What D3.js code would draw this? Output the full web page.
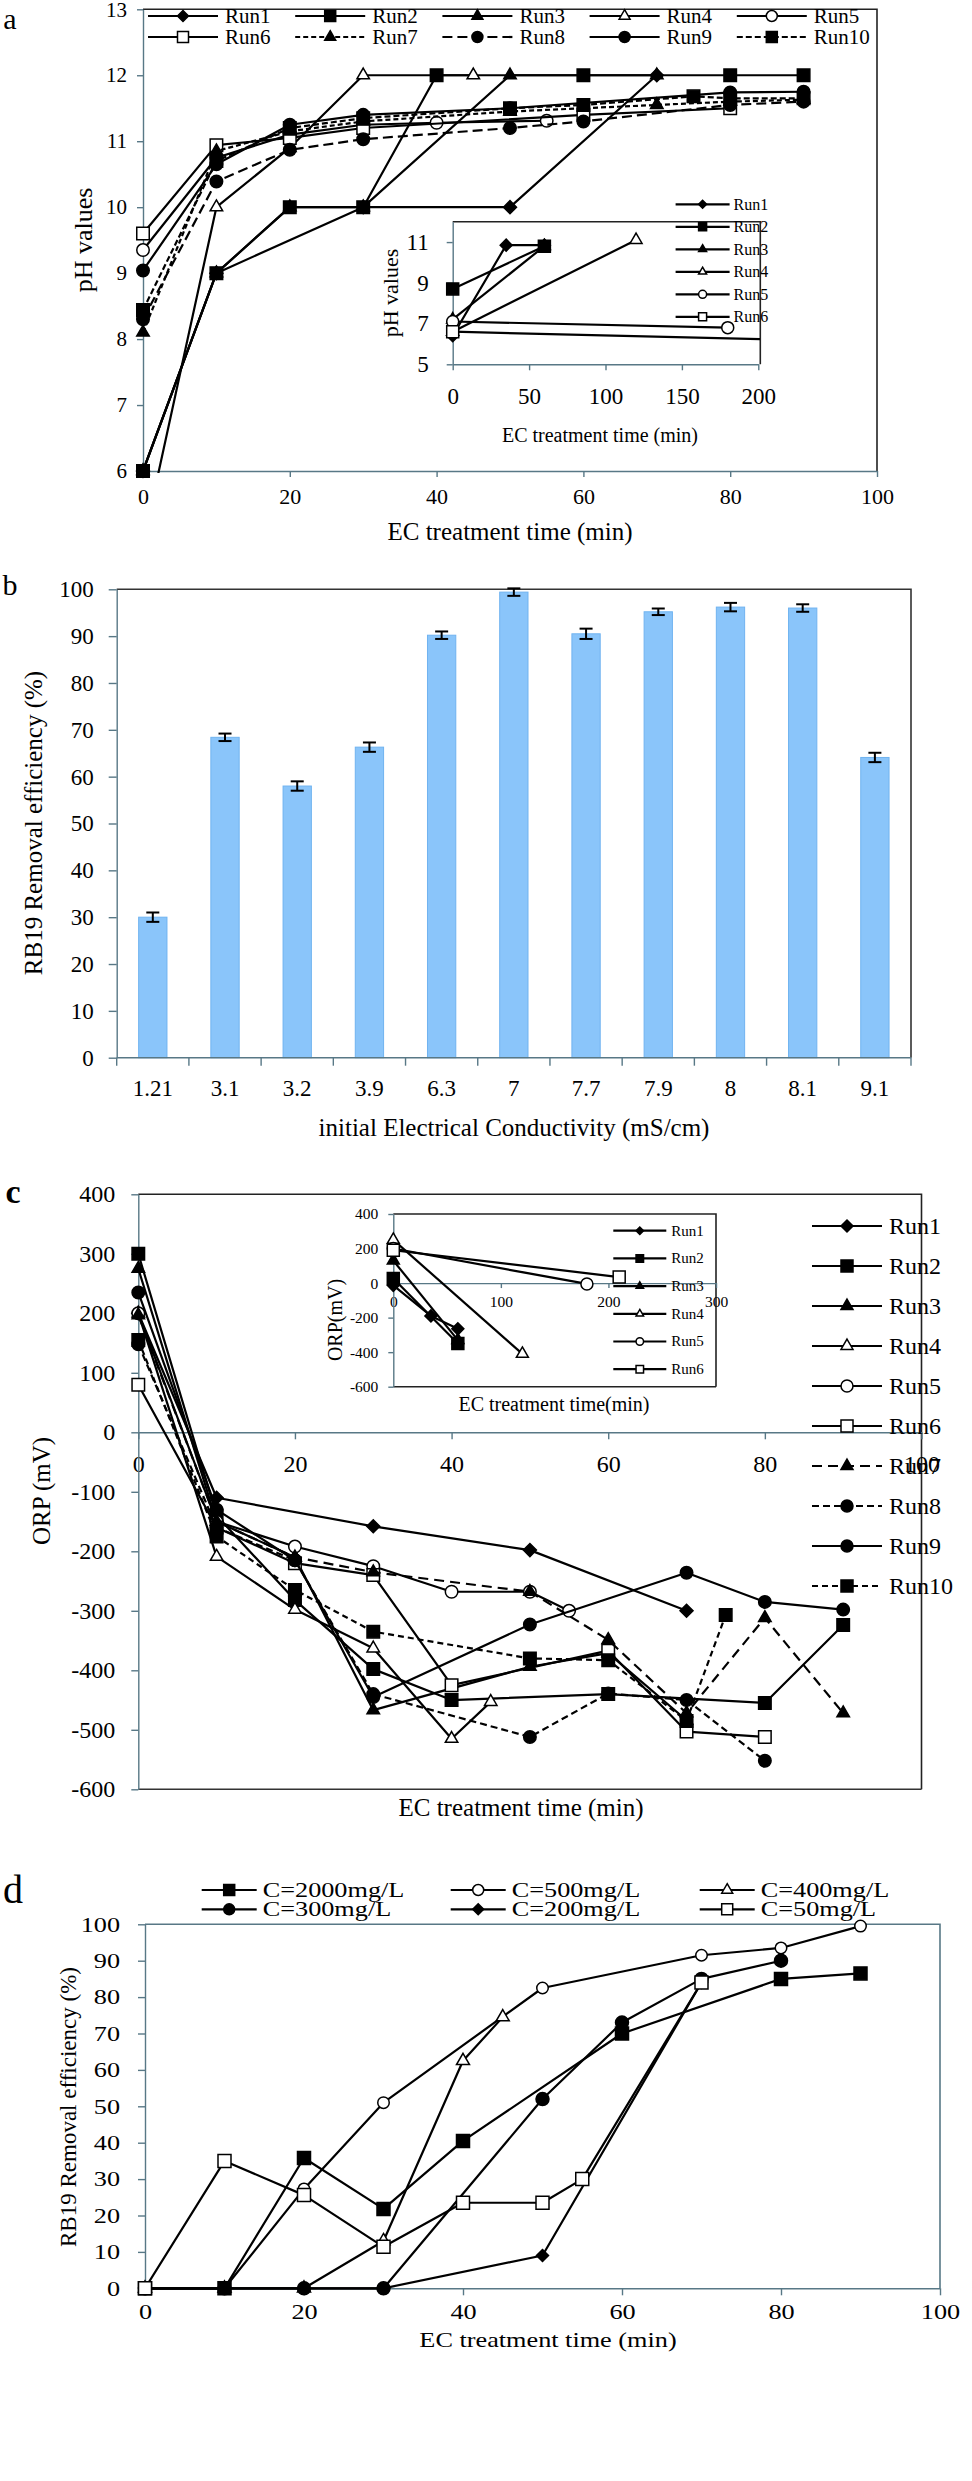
<!DOCTYPE html>
<html>
<head>
<meta charset="utf-8">
<script src="https://cdn.jsdelivr.net/npm/d3@7"></script>
<style>
html,body{margin:0;padding:0;background:#fff;}
svg{display:block;}
</style>
</head>
<body>
<svg id="fig" width="972" height="2481"></svg>
<script>
// ===== Data =====
const runNames = ['Run1','Run2','Run3','Run4','Run5','Run6','Run7','Run8','Run9','Run10'];

// (a) pH vs EC time, [min, pH]
const phRun1  = [[0,6],[10,9],[30,10],[50,10],[70,12]];
const phRun2  = [[0,6],[10,9],[20,10],[30,10],[40,12],[60,12],[80,12],[90,12]];
const phRun3  = [[0,6],[10,9],[20,10],[30,10],[50,12],[70,12]];
const phRun4  = [[0,4.9],[10,10],[20,10.9],[30,12],[45,12]];
const phRun5  = [[0,9.35],[10,10.75],[20,11.1],[30,11.25],[40,11.28],[55,11.31]];
const phRun6  = [[0,9.6],[10,10.94],[20,11.05],[30,11.2],[60,11.4],[80,11.5]];
const phRun7  = [[0,8.1],[10,10.85],[20,11.15],[30,11.3],[50,11.45],[70,11.55],[80,11.6],[90,11.63]];
const phRun8  = [[0,8.3],[10,10.39],[20,10.87],[30,11.03],[50,11.2],[60,11.3],[80,11.55],[90,11.6]];
const phRun9  = [[0,9.04],[10,10.65],[20,11.25],[30,11.4],[50,11.5],[80,11.74],[90,11.75]];
const phRun10 = [[0,8.44],[10,10.7],[20,11.2],[30,11.35],[50,11.5],[60,11.55],[75,11.68],[80,11.65],[90,11.65]];
// (a) inset, long runs
const phLong1 = [[0,6.4],[35,10.85],[60,10.85]];
const phLong2 = [[0,8.7],[60,10.8]];
const phLong3 = [[0,7.2],[60,10.8]];
const phLong4 = [[0,6.6],[120,11.1]];
const phLong5 = [[0,7.1],[180,6.8]];
const phLong6 = [[0,6.6],[220,6.2]];

// (b) removal vs initial EC
const ecCats    = ['1.21','3.1','3.2','3.9','6.3','7','7.7','7.9','8','8.1','9.1'];
const ecRemoval = [30.0, 68.4, 58.0, 66.3, 90.2, 99.4, 90.5, 95.2, 96.2, 96.0, 64.1];
const ecErr     = [1.0, 0.8, 1.0, 1.0, 0.8, 0.8, 1.1, 0.7, 0.9, 0.8, 1.0];

// (c) ORP vs EC time, [min, mV]
const orpRun1  = [[0,200],[10,-110],[30,-158],[50,-198],[70,-300]];
const orpRun2  = [[0,300],[10,-140],[20,-282],[30,-398],[40,-450],[60,-440],[80,-455],[90,-324]];
const orpRun3  = [[0,275],[10,-150],[20,-210],[30,-467],[50,-394],[60,-371],[70,-484]];
const orpRun4  = [[0,200],[10,-209],[20,-298],[30,-363],[40,-515],[45,-453]];
const orpRun5  = [[0,200],[10,-150],[20,-192],[30,-225],[40,-268],[50,-268],[55,-300]];
const orpRun6  = [[0,80],[10,-160],[20,-220],[30,-240],[40,-425],[60,-367],[70,-503],[80,-512]];
const orpRun7  = [[0,197],[10,-150],[20,-210],[30,-235],[50,-268],[60,-349],[70,-472],[80,-312],[90,-472]];
const orpRun8  = [[0,148],[10,-160],[20,-215],[30,-440],[50,-512],[60,-439],[70,-450],[80,-552]];
const orpRun9  = [[0,235],[10,-130],[20,-215],[30,-445],[50,-323],[70,-236],[80,-285],[90,-298]];
const orpRun10 = [[0,155],[10,-175],[20,-265],[30,-335],[50,-380],[60,-383],[70,-485],[75,-307]];
// (c) inset
const orpLong1 = [[0,-13],[35,-190],[60,-265]];
const orpLong2 = [[0,27],[60,-350]];
const orpLong3 = [[0,130],[60,-330]];
const orpLong4 = [[0,250],[120,-410]];
const orpLong5 = [[0,200],[180,-5]];
const orpLong6 = [[0,190],[210,35]];

// (d) removal vs time for dye concentrations, [min, %]
const concNames = ['C=2000mg/L','C=500mg/L','C=400mg/L','C=300mg/L','C=200mg/L','C=50mg/L'];
const remC2000 = [[0,0],[10,0],[20,35.8],[30,21.8],[40,40.5],[60,70],[80,85],[90,86.5]];
const remC500  = [[0,0],[10,0],[20,27.3],[30,51],[50,82.5],[70,91.5],[80,93.5],[90,99.5]];
const remC400  = [[0,0],[10,0],[20,0],[30,13],[40,62.5],[45,74.5]];
const remC300  = [[0,0],[10,0],[20,0],[30,0],[50,52],[60,73],[70,85],[80,90]];
const remC200  = [[0,0],[10,0],[20,0],[30,0],[50,9],[70,84]];
const remC50   = [[0,0],[10,35],[20,25.6],[30,11.4],[40,23.5],[50,23.5],[55,30],[70,84]];

// axis ticks
const phTicks = [6,7,8,9,10,11,12,13];
const phInsetTicks = [5,7,9,11];
const timeTicks = [0,20,40,60,80,100];
const timeInsetTicks = [0,50,100,150,200];
const pctTicks = [0,10,20,30,40,50,60,70,80,90,100];
const orpTicks = [-600,-500,-400,-300,-200,-100,0,100,200,300,400];
const orpInsetTicks = [-600,-400,-200,0,200,400];
const orpInsetTimeTicks = [0,100,200,300];

// ===== Styles =====
const FONT = '"Liberation Serif","Times New Roman",Times,serif';
const AXC = '#587886';
const runShapes = ['diamond','square','triangle','triangleOpen','circleOpen','squareOpen','triangle','circle','circle','square'];
const dashA = [null,null,null,null,null,null,'5,3','10,5',null,'6,3'];
const dashC = [null,null,null,null,null,null,'10,6','7,4',null,'6,4'];
const concShapes = ['square','circleOpen','triangleOpen','circle','diamond','squareOpen'];
const fmt = d => String(d);

const svg = d3.select('#fig').attr('font-family', FONT);
svg.append('rect').attr('width',972).attr('height',2481).attr('fill','#fff');
const defs = svg.append('defs');

function clipRect(id, x0, y0, x1, y1){
  defs.append('clipPath').attr('id', id).append('rect')
    .attr('x', x0).attr('y', y0).attr('width', x1 - x0).attr('height', y1 - y0);
}

function symPath(shape, s){
  const base = shape.replace('Open','');
  if(base === 'square') return d3.symbol(d3.symbolSquare, s*s)();
  if(base === 'diamond') return d3.symbol(d3.symbolSquare, s*s/2)();
  if(base === 'circle') return d3.symbol(d3.symbolCircle, Math.PI*s*s/4)();
  return d3.symbol(d3.symbolTriangle, Math.sqrt(3)/4*s*s)();
}

function marker(g, shape, x, y, s){
  g.append('path')
    .attr('d', symPath(shape, s))
    .attr('transform', `translate(${x},${y})` + (shape === 'diamond' ? ' rotate(45)' : ''))
    .attr('fill', shape.endsWith('Open') ? '#fff' : '#000')
    .attr('stroke', '#000').attr('stroke-width', 1.5);
}

function series(g, pts, shape, dash, xs, ys, clipId, ms, lw){
  const line = d3.line().x(d => xs(d[0])).y(d => ys(d[1]));
  g.append('path').attr('d', line(pts))
    .attr('fill','none').attr('stroke','#000').attr('stroke-width', lw || 2.2)
    .attr('stroke-dasharray', dash).attr('stroke-linejoin','round')
    .attr('clip-path', `url(#${clipId})`);
  const [x0, x1] = xs.domain();
  const [y0, y1] = d3.extent(ys.domain());
  pts.filter(d => d[0] >= x0 && d[0] <= x1 && d[1] >= y0 && d[1] <= y1)
    .forEach(d => marker(g, shape, xs(d[0]), ys(d[1]), ms));
}

function text(g, txt, x, y, size, o = {}){
  let tr = `translate(${x},${y})`;
  if(o.rotate) tr += ` rotate(${o.rotate})`;
  if(o.sx) tr += ` scale(${o.sx},1)`;
  return g.append('text').text(txt)
    .attr('transform', tr)
    .attr('font-family', FONT)
    .attr('font-size', size)
    .attr('font-weight', o.weight || 'normal')
    .attr('text-anchor', o.anchor || 'middle')
    .attr('fill', '#000');
}

function legendItem(g, name, shape, dash, x, y, len, ms, fs, gap, sx){
  g.append('line').attr('x1', x).attr('x2', x + len).attr('y1', y).attr('y2', y)
    .attr('stroke','#000').attr('stroke-width', 2.2).attr('stroke-dasharray', dash);
  marker(g, shape, x + len/2, y, ms);
  text(g, name, x + len + gap, y + fs*0.33, fs, {anchor:'start', sx});
}

function styleAxis(ax, fs, sx){
  ax.attr('font-family', FONT).attr('font-size', null);
  ax.select('.domain').attr('stroke', AXC).attr('stroke-width', 1.4);
  ax.selectAll('.tick line').attr('stroke', AXC).attr('stroke-width', 1.4);
  ax.selectAll('.tick text').attr('fill','#000').attr('font-size', fs)
    .attr('font-family', FONT)
    .attr('transform', sx ? `scale(${sx},1)` : null);
}

function frame(g, x0, y0, x1, y1, color){
  g.append('path').attr('d', `M${x0},${y0}H${x1}V${y1}`)
    .attr('fill','none').attr('stroke', color).attr('stroke-width', 1.6);
}

// ===== (a) pH =====
const gA = svg.append('g');
const aX = d3.scaleLinear().domain([0,100]).range([143,877]);
const aY = d3.scaleLinear().domain([6,13]).range([471,9.3]);
clipRect('clipA', 141, 8, 879, 473);

frame(gA, aX(0), aY(13), aX(100), aY(6), '#222');
styleAxis(gA.append('g').attr('transform', `translate(0,${aY(6)})`)
  .call(d3.axisBottom(aX).tickValues(timeTicks).tickFormat(fmt).tickSize(6).tickPadding(11).tickSizeOuter(0)), 22);
styleAxis(gA.append('g').attr('transform', `translate(${aX(0)},0)`)
  .call(d3.axisLeft(aY).tickValues(phTicks).tickFormat(fmt).tickSize(6).tickPadding(10).tickSizeOuter(0)), 21);

const phRuns = [phRun1,phRun2,phRun3,phRun4,phRun5,phRun6,phRun7,phRun8,phRun9,phRun10];
phRuns.forEach((pts, i) => series(gA, pts, runShapes[i], dashA[i], aX, aY, 'clipA', runShapes[i] === 'diamond' ? 13 : 12.5));

runNames.forEach((n, i) => {
  legendItem(gA, n, runShapes[i], dashA[i], 148 + (i % 5)*147.2, i < 5 ? 16 : 37, 70, 11, 21, 7);
});

text(gA, 'a', 10, 29, 30);
text(gA, 'pH values', 92, 240, 26, {rotate:-90});
text(gA, 'EC treatment time (min)', 510, 540, 25);

// inset of (a)
const aiX = d3.scaleLinear().domain([0,200]).range([452.7,758.3]);
const aiY = d3.scaleLinear().domain([5,12]).range([364.3,221.7]);
clipRect('clipAi', 451, 220, 760, 366);
gA.append('rect').attr('x', aiX(0)).attr('y', aiY(12)).attr('width', aiX(200) - aiX(0)).attr('height', aiY(5) - aiY(12)).attr('fill','#fff');
frame(gA, aiX(0), aiY(12), aiX(200) + 2, aiY(5), '#222');
styleAxis(gA.append('g').attr('transform', `translate(0,${aiY(5)})`)
  .call(d3.axisBottom(aiX).tickValues(timeInsetTicks).tickFormat(fmt).tickSize(6).tickPadding(17).tickSizeOuter(0)), 23);
styleAxis(gA.append('g').attr('transform', `translate(${aiX(0)},0)`)
  .call(d3.axisLeft(aiY).tickValues(phInsetTicks).tickFormat(fmt).tickSize(6).tickPadding(18).tickSizeOuter(0)), 23);
const phLongs = [phLong1,phLong2,phLong3,phLong4,phLong5,phLong6];
phLongs.forEach((pts, i) => series(gA, pts, runShapes[i], null, aiX, aiY, 'clipAi', 12));
runNames.slice(0,6).forEach((n, i) => {
  legendItem(gA, n, runShapes[i], null, 675.6, 204.3 + 22.5*i, 54, 8, 16, 4);
});
text(gA, 'pH values', 398, 293, 22, {rotate:-90});
text(gA, 'EC treatment time (min)', 600, 442, 20);

// ===== (b) removal vs EC =====
const gB = svg.append('g');
const bX = d3.scaleBand().domain(ecCats).range([116.7,911]).paddingInner(0.608).paddingOuter(0.304);
const bY = d3.scaleLinear().domain([0,100]).range([1057.7,589.3]);

frame(gB, 116.7, bY(100), 911, bY(0), '#333');
styleAxis(gB.append('g').attr('transform', 'translate(116.7,0)')
  .call(d3.axisLeft(bY).tickValues(pctTicks).tickFormat(fmt).tickSize(8).tickPadding(15).tickSizeOuter(0)), 23);

gB.selectAll('rect.bar').data(ecCats).join('rect').attr('class','bar')
  .attr('x', d => bX(d)).attr('width', bX.bandwidth())
  .attr('y', (d, i) => bY(ecRemoval[i])).attr('height', (d, i) => bY(0) - bY(ecRemoval[i]))
  .attr('fill', '#8ac5fa').attr('stroke', '#70b3f0').attr('stroke-width', 1);

const errG = gB.append('g').attr('stroke','#000').attr('stroke-width', 2);
ecCats.forEach((c, i) => {
  const cx = bX(c) + bX.bandwidth()/2;
  const lo = bY(ecRemoval[i] - ecErr[i]), hi = bY(ecRemoval[i] + ecErr[i]);
  errG.append('line').attr('x1', cx).attr('x2', cx).attr('y1', lo).attr('y2', hi);
  errG.append('line').attr('x1', cx - 6.5).attr('x2', cx + 6.5).attr('y1', lo).attr('y2', lo);
  errG.append('line').attr('x1', cx - 6.5).attr('x2', cx + 6.5).attr('y1', hi).attr('y2', hi);
});

// category axis: ticks at band boundaries
const step = bX.step(), edge = (step - bX.bandwidth())/2;
gB.append('line').attr('x1', 116.7).attr('x2', 911).attr('y1', bY(0)).attr('y2', bY(0))
  .attr('stroke', AXC).attr('stroke-width', 1.6);
ecCats.concat(['end']).forEach((c, i) => {
  const xb = i < ecCats.length ? bX(c) - edge : bX(ecCats[ecCats.length-1]) + bX.bandwidth() + edge;
  gB.append('line').attr('x1', xb).attr('x2', xb).attr('y1', bY(0)).attr('y2', bY(0) + 8)
    .attr('stroke', AXC).attr('stroke-width', 1.4);
});
ecCats.forEach(c => text(gB, c, bX(c) + bX.bandwidth()/2, 1096, 23));

text(gB, 'b', 10, 595, 30);
text(gB, 'RB19 Removal efficiency (%)', 42, 823, 25, {rotate:-90});
text(gB, 'initial Electrical Conductivity (mS/cm)', 514, 1136, 25);

// ===== (c) ORP =====
const gC = svg.append('g');
const cX = d3.scaleLinear().domain([0,100]).range([138.3,921.5]);
const cY = d3.scaleLinear().domain([-600,400]).range([1789.3,1194.3]);
clipRect('clipC', 137, 1193, 923, 1791);

frame(gC, cX(0), cY(400), cX(100), cY(-600), '#222');
gC.append('line').attr('x1', cX(0)).attr('x2', cX(100)).attr('y1', cY(-600)).attr('y2', cY(-600))
  .attr('stroke', '#333').attr('stroke-width', 1.6);
styleAxis(gC.append('g').attr('transform', `translate(0,${cY(0)})`)
  .call(d3.axisBottom(cX).tickValues(timeTicks).tickFormat(fmt).tickSize(7).tickPadding(16).tickSizeOuter(0)), 24);
styleAxis(gC.append('g').attr('transform', `translate(${cX(0)},0)`)
  .call(d3.axisLeft(cY).tickValues(orpTicks).tickFormat(fmt).tickSize(7).tickPadding(16).tickSizeOuter(0)), 24);

const orpRuns = [orpRun1,orpRun2,orpRun3,orpRun4,orpRun5,orpRun6,orpRun7,orpRun8,orpRun9,orpRun10];
orpRuns.forEach((pts, i) => series(gC, pts, runShapes[i], dashC[i], cX, cY, 'clipC', runShapes[i] === 'diamond' ? 13 : 12.5));

// inset of (c)
const ciX = d3.scaleLinear().domain([0,300]).range([393.3,716]);
const ciY = d3.scaleLinear().domain([-600,400]).range([1386.7,1214]);
clipRect('clipCi', 392, 1213, 717, 1388);
gC.append('rect').attr('x', ciX(0)).attr('y', ciY(400)).attr('width', ciX(300) - ciX(0)).attr('height', ciY(-600) - ciY(400)).attr('fill','#fff');
frame(gC, ciX(0), ciY(400), ciX(300), ciY(-600), '#222');
gC.append('line').attr('x1', ciX(0)).attr('x2', ciX(300)).attr('y1', ciY(-600)).attr('y2', ciY(-600))
  .attr('stroke', '#222').attr('stroke-width', 1.6);
styleAxis(gC.append('g').attr('transform', `translate(0,${ciY(0)})`)
  .call(d3.axisBottom(ciX).tickValues(orpInsetTimeTicks).tickFormat(fmt).tickSize(5).tickPadding(8).tickSizeOuter(0)), 15.5);
styleAxis(gC.append('g').attr('transform', `translate(${ciX(0)},0)`)
  .call(d3.axisLeft(ciY).tickValues(orpInsetTicks).tickFormat(fmt).tickSize(5).tickPadding(10).tickSizeOuter(0)), 15.5);
const orpLongs = [orpLong1,orpLong2,orpLong3,orpLong4,orpLong5,orpLong6];
orpLongs.forEach((pts, i) => series(gC, pts, runShapes[i], null, ciX, ciY, 'clipCi', 12));
runNames.slice(0,6).forEach((n, i) => {
  legendItem(gC, n, runShapes[i], null, 613.3, 1230.7 + 27.7*i, 53, 7.5, 15, 5);
});
text(gC, 'ORP(mV)', 342, 1320, 20, {rotate:-90});
text(gC, 'EC treatment time(min)', 554, 1411, 20);

// legend of (c), outside right
runNames.forEach((n, i) => {
  legendItem(gC, n, runShapes[i], dashC[i], 812, 1226 + 40*i, 70, 12, 24, 7);
});

text(gC, 'c', 13, 1203, 34, {weight:'bold'});
text(gC, 'ORP (mV)', 50, 1491, 25, {rotate:-90});
text(gC, 'EC treatment time (min)', 521, 1816, 25);

// ===== (d) removal vs time =====
const gD = svg.append('g');
const SX = 1.25;
const dX = d3.scaleLinear().domain([0,100]).range([145,940]);
const dY = d3.scaleLinear().domain([0,100]).range([2288.3,1924.3]);
clipRect('clipD', 143, 1922, 942, 2290);

frame(gD, dX(0), dY(100), dX(100), dY(0), AXC);
styleAxis(gD.append('g').attr('transform', `translate(0,${dY(0)})`)
  .call(d3.axisBottom(dX).tickValues(timeTicks).tickFormat(fmt).tickSize(7).tickPadding(9).tickSizeOuter(0)), 21, SX);
styleAxis(gD.append('g').attr('transform', `translate(${dX(0)},0)`)
  .call(d3.axisLeft(dY).tickValues(pctTicks).tickFormat(fmt).tickSize(7).tickPadding(13).tickSizeOuter(0)), 21, SX);

const concRuns = [remC2000, remC500, remC400, remC300, remC200, remC50];
concRuns.forEach((pts, i) => series(gD, pts, concShapes[i], null, dX, dY, 'clipD', concShapes[i] === 'diamond' ? 12 : (concShapes[i] === 'circleOpen' ? 11.5 : 13)));

concNames.forEach((n, i) => {
  legendItem(gD, n, concShapes[i], null, 201.7 + (i % 3)*249, i < 3 ? 1890 : 1909.3, 55, 11, 21, 6, SX);
});

text(gD, 'd', 13, 1903, 40);
text(gD, 'RB19 Removal efficiency (%)', 76, 2107, 23, {rotate:-90});
text(gD, 'EC treatment time (min)', 548, 2347, 21, {sx:SX});
</script>
</body>
</html>
